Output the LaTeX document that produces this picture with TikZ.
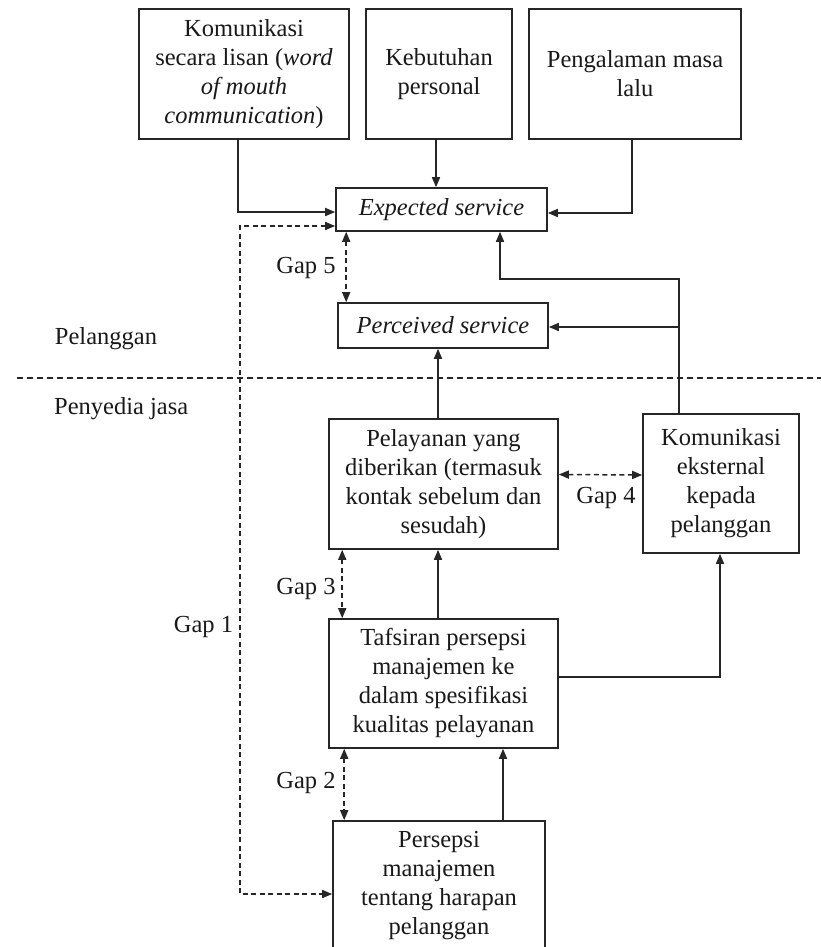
\documentclass[tikz,border=0pt]{standalone}
\usepackage{fontspec}
\setmainfont{Liberation Serif}
\usetikzlibrary{arrows.meta,calc}
\begin{document}
\begin{tikzpicture}[x=1pt,y=-1pt,
  txt/.style={font=\fontsize{24.5}{29}\selectfont, text=black!90},
  box/.style={txt, draw=black!85, line width=1.6pt, align=center, inner sep=0pt},
  lbl/.style={txt, inner sep=0pt},
  tip/.tip={Triangle[length=10pt,width=8pt]},
  arr/.style={draw=black!85, line width=1.6pt, -tip},
  gap/.style={draw=black!85, line width=1.5pt, dash pattern=on 5pt off 3.5pt, tip-tip},
  sep/.style={draw=black!85, line width=1.5pt, dash pattern=on 6pt off 4pt},
]
\clip (0,0) rectangle (821,947);
\fill[white] (0,0) rectangle (821,947);

% top boxes
\node[box, minimum width=210pt, minimum height=130pt] (b1) at (244,74)
  {Komunikasi\\secara lisan (\textit{word}\\\textit{of mouth}\\\textit{communication})};
\node[box, minimum width=146pt, minimum height=130pt] (b2) at (439,74)
  {Kebutuhan\\personal};
\node[box, minimum width=212pt, minimum height=130pt] (b3) at (635,74)
  {Pengalaman masa\\lalu};

% service boxes
\node[box, minimum width=211pt, minimum height=43pt] (exp) at (441.5,209.5) {\textit{Expected service}};
\node[box, minimum width=210pt, minimum height=45pt] (perc) at (443,325.5) {\textit{Perceived service}};

% provider boxes
\node[box, minimum width=229pt, minimum height=130pt] (pel) at (443.5,484)
  {Pelayanan yang\\diberikan (termasuk\\kontak sebelum dan\\sesudah)};
\node[box, minimum width=156pt, minimum height=139pt] (ke) at (721,483.5)
  {Komunikasi\\eksternal\\kepada\\pelanggan};
\node[box, minimum width=229pt, minimum height=129pt] (taf) at (443.5,683.5)
  {Tafsiran persepsi\\manajemen ke\\dalam spesifikasi\\kualitas pelayanan};
\node[box, minimum width=212pt, minimum height=130pt] (pers) at (439,886)
  {Persepsi\\manajemen\\tentang harapan\\pelanggan};

% side labels
\node[lbl] (lp) at (106,339) {Pelanggan};
\node[lbl, anchor=west] (lj) at (54,409) {Penyedia jasa};
\draw[sep] (17,378) -- (821,378);

% helper coordinates
\coordinate (g1) at (240,0);
\coordinate (e1) at ($(exp.west)+(0,16.5)$);
\coordinate (p1) at ($(pers.west)+(0,8)$);
\coordinate (k1) at ($(ke.north)+(-42,0)$);
\coordinate (t1) at ($(exp.south)+(58.5,0)$);
\coordinate (pe) at ($(perc.east)+(0,1.5)$);

% solid connectors
\draw[arr] ($(b1.south)+(-6,0)$) |- ($(exp.west)+(0,2.5)$);
\draw[arr] ($(b2.south)+(-3,0)$) -- ($(exp.north)+(-5.5,0)$);
\draw[arr] ($(b3.south)+(-3,0)$) |- ($(exp.east)+(0,3.5)$);
\draw[arr] (k1) |- ($(t1)+(0,47)$) -- (t1);
\draw[arr] (k1 |- pe) -- (pe);
\draw[arr] ($(pel.north)+(-5.5,0)$) -- ($(perc.south)+(-5,0)$);
\draw[arr] ($(taf.north)+(-5.5,0)$) -- ($(pel.south)+(-5.5,0)$);
\draw[arr] ($(taf.east)+(0,-6.5)$) -| ($(ke.south)+(-1,0)$);
\draw[arr] ($(pers.north)+(64,0)$) -- ($(taf.south)+(59.5,0)$);

% gaps
\draw[gap] (e1) -- (e1 -| g1) -- (p1 -| g1) -- (p1);
\node[lbl] (gap1) at (203.5,627) {Gap 1};
\draw[gap] ($(exp.south west)+(11,0)$) -- ($(perc.north west)+(9,0)$);
\node[lbl] (gap5) at (306,268) {Gap 5};
\draw[gap] ($(pel.east)+(0,-9.5)$) -- ($(ke.west)+(0,-8.5)$);
\node[lbl] (gap4) at (606,498) {Gap 4};
\draw[gap] ($(pel.south west)+(14,0)$) -- ($(taf.north west)+(14,0)$);
\node[lbl] (gap3) at (306,589) {Gap 3};
\draw[gap] ($(taf.south west)+(16,0)$) -- ($(pers.north west)+(12,0)$);
\node[lbl] (gap2) at (306,783) {Gap 2};
\end{tikzpicture}
\end{document}
